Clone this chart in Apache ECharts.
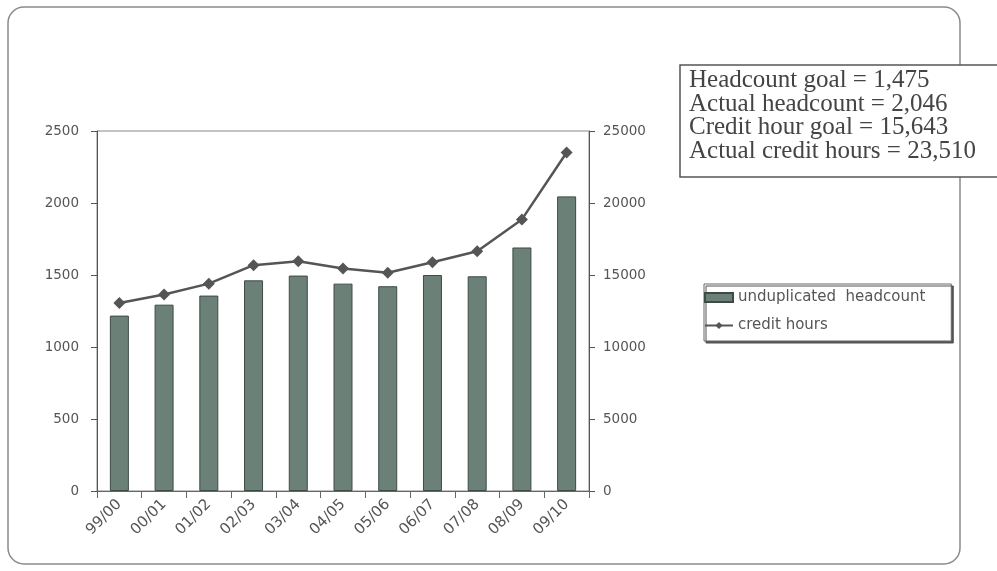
<!DOCTYPE html>
<html>
<head>
<meta charset="utf-8">
<script src="https://cdn.jsdelivr.net/npm/echarts@6/dist/echarts.min.js"></script>
<style>
  html, body { margin: 0; padding: 0; background: #fff; }
  #main { width: 997px; height: 571px; }
</style>
</head>
<body>
<div id="main"></div>
<script>
const years = ["99/00", "00/01", "01/02", "02/03", "03/04", "04/05", "05/06", "06/07", "07/08", "08/09", "09/10"];
const headcount = [1218, 1294, 1357, 1463, 1496, 1440, 1422, 1500, 1491, 1691, 2046];
const creditHours = [13060, 13640, 14400, 15680, 15950, 15450, 15150, 15890, 16650, 18860, 23510];
const noteLines = [
  "Headcount goal = 1,475",
  "Actual headcount = 2,046",
  "Credit hour goal = 15,643",
  "Actual credit hours = 23,510"
];

const chart = echarts.init(document.getElementById("main"));

// the scan is a bit wide, DejaVu Sans gets closer than Arial
const axisText = { color: "#555", fontFamily: "'DejaVu Sans', sans-serif", fontSize: 13.5 };
const plain = (v) => String(v);

chart.setOption({
  backgroundColor: "#fff",
  animation: false,
  grid: {
    left: 97, right: 408, top: 131, bottom: 80,
    show: true, borderColor: "#888", borderWidth: 1
  },
  legend: {
    orient: "vertical",
    left: 704, top: 284,
    itemWidth: 28, itemHeight: 9, itemGap: 13,
    padding: [6, 26, 8, 0],
    borderColor: "#666", borderWidth: 1,
    backgroundColor: "#fff",
    shadowColor: "#555", shadowOffsetX: 2, shadowOffsetY: 2, shadowBlur: 0,
    textStyle: { color: "#555", fontFamily: "'DejaVu Sans', sans-serif", fontSize: 15 },
    data: [
      { name: "unduplicated  headcount", icon: "rect" },
      { name: "credit hours" }
    ]
  },
  xAxis: {
    type: "category",
    data: years,
    axisLine: { lineStyle: { color: "#666" } },
    axisTick: { show: true, length: 7, lineStyle: { color: "#666" } },
    axisLabel: Object.assign({}, axisText, { rotate: 45, margin: 11, fontSize: 15 })
  },
  yAxis: [
    {
      type: "value", min: 0, max: 2500, interval: 500,
      axisLine: { show: true, lineStyle: { color: "#555" } },
      axisTick: { show: true, length: 6, lineStyle: { color: "#555" } },
      splitLine: { show: false },
      axisLabel: Object.assign({ margin: 18, formatter: plain }, axisText)
    },
    {
      type: "value", min: 0, max: 25000, interval: 5000,
      axisLine: { show: true, lineStyle: { color: "#555" } },
      axisTick: { show: true, length: 6, lineStyle: { color: "#555" } },
      splitLine: { show: false },
      axisLabel: Object.assign({ margin: 14, formatter: plain }, axisText)
    }
  ],
  series: [
    {
      name: "unduplicated  headcount",
      type: "bar",
      data: headcount,
      barWidth: 19,
      itemStyle: { color: "#6b8178", borderColor: "#3e4a45", borderWidth: 1 }
    },
    {
      name: "credit hours",
      type: "line",
      yAxisIndex: 1,
      data: creditHours,
      symbol: "diamond",
      symbolSize: 12,
      lineStyle: { color: "#555", width: 2.5 },
      itemStyle: { color: "#555" }
    }
  ],
  graphic: [
    {
      type: "rect", silent: true, z: -1,
      shape: { x: 8, y: 7, width: 952, height: 557, r: 16 },
      style: { fill: "none", stroke: "#8a8a8a", lineWidth: 1.5 }
    },
    {
      type: "rect", silent: true,
      shape: { x: 680, y: 65, width: 330, height: 112 },
      style: { fill: "#fff", stroke: "#555", lineWidth: 1.5 }
    },
    {
      type: "text", left: 689, top: 68,
      style: {
        text: noteLines.join("\n"),
        font: "25px 'Liberation Serif', 'Times New Roman', serif",
        lineHeight: 23.5,
        fill: "#444"
      }
    }
  ]
});
</script>
</body>
</html>
